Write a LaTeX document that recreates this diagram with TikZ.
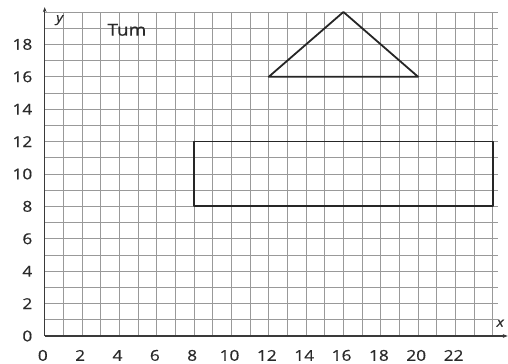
\documentclass[tikz,border=0pt]{standalone}
\usepackage{fontspec}
\setsansfont{Open Sans}[FakeStretch=1.15, FakeBold=0.6]
\usetikzlibrary{arrows.meta}
\definecolor{gridCol}{HTML}{999999}
\definecolor{axisCol}{HTML}{3A3A3A}
\definecolor{shapeCol}{HTML}{262626}
\definecolor{labCol}{HTML}{2A2A2A}
\tikzset{
  paper/.style={draw=gridCol, line width=0.7pt},
  axis/.style={draw=axisCol, line width=1.3pt, -{Stealth[length=5pt]}},
  figline/.style={draw=shapeCol, line width=1.8pt, line join=round},
  numlab/.style={font=\sffamily\fontsize{15}{18}\selectfont, text=labCol, inner sep=1pt},
  axlab/.style={font=\sffamily\itshape\fontsize{13}{15}\selectfont, text=labCol, inner sep=1pt},
}
\begin{document}
\begin{tikzpicture}[x=18.67pt, y=16.2pt]
  \useasboundingbox (-2.394,-1.728) rectangle (24.815,20.74);
  \draw[paper, step={(1,1)}] (0,0) grid (24.3,20);
  \coordinate (origin) at (0,0);
  \coordinate (xEnd) at (24.8,0);
  \coordinate (yEnd) at (0,20.3);
  \draw[axis] (origin) -- (xEnd);
  \draw[axis] (origin) -- (yEnd);
  % axis numbers
  \foreach \v in {0,2,...,22}
    \node[numlab] (xl\v) at (\v-0.1,-1.2) {\v};
  \foreach \v in {0,2,...,18}
    \node[numlab, anchor=east] (yl\v) at (-0.6,\v) {\v};
  \node[axlab] (xName) at (24.4,0.8) {x};
  \node[axlab] (yName) at (0.8,19.5) {y};
  \node[numlab, font=\sffamily\fontsize{16.5}{18}\selectfont] (title) at (4.4,18.9) {Tum};
  % shapes
  \draw[figline] (12,16) -- (16,20) -- (20,16) -- cycle;
  \draw[figline] (8,8) rectangle (24,12);
\end{tikzpicture}
\end{document}
